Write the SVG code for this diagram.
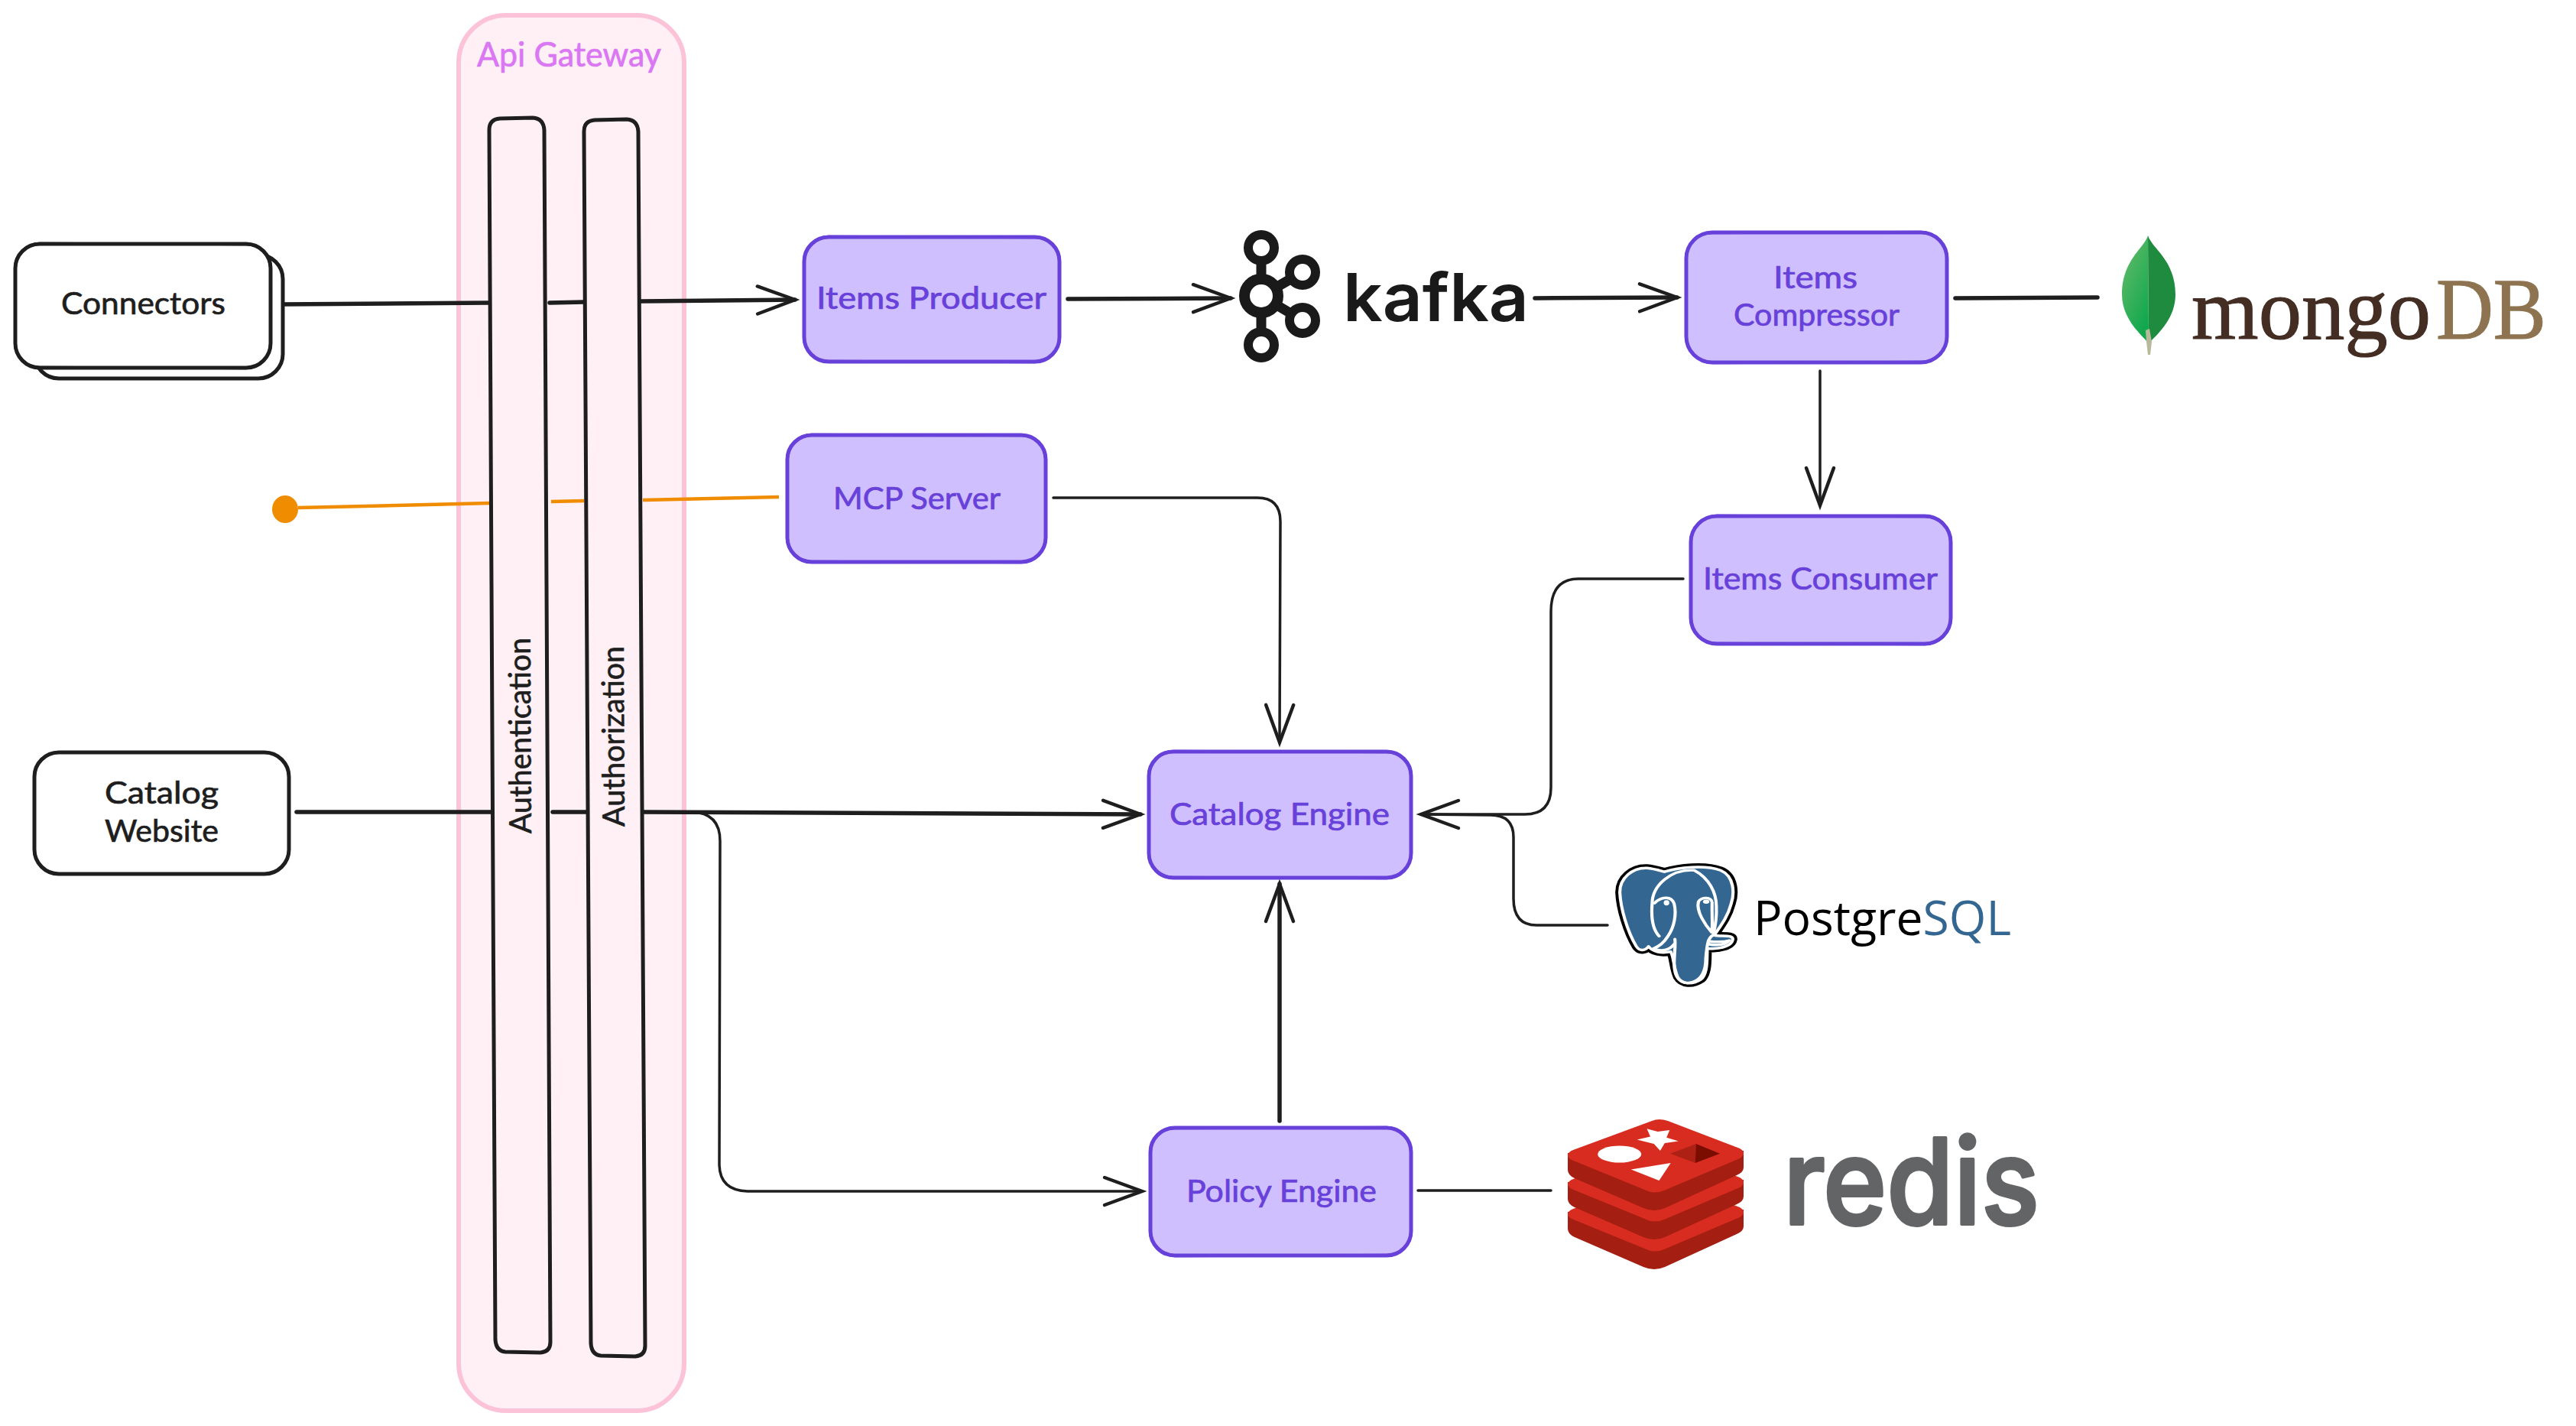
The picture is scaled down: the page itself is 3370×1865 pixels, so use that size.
<svg xmlns="http://www.w3.org/2000/svg" width="3370" height="1865" viewBox="0 0 3370 1865">
<style>
text{font-family:"Lato","Noto Sans",sans-serif;font-size:40px}
.ink{fill:#1e1e1e;stroke:#1e1e1e;stroke-width:.7}.vio{fill:#6741d9;stroke:#6741d9;stroke-width:.7}.pk{fill:#da77f2;stroke:#da77f2;stroke-width:.7;font-size:44px}
.w{fill:#fff;stroke:#1e1e1e;stroke-width:5}
.wo{fill:none;stroke:#1e1e1e;stroke-width:3}
.p{fill:#d0bfff;stroke:#6741d9;stroke-width:5}
.po{fill:none;stroke:#6741d9;stroke-width:3}
.bar{fill:#fff0f6;stroke:#1e1e1e;stroke-width:5}
.l{fill:none;stroke:#1e1e1e;stroke-width:5.5;stroke-linecap:round}
.t{fill:none;stroke:#1e1e1e;stroke-width:3.5;stroke-linecap:round;stroke-linejoin:round}
.o{fill:none;stroke:#f08c00;stroke-width:4.5}
.kr{fill:#fff;stroke:#1a1a1a}
.wl{fill:none;stroke:#fff;stroke-width:9;stroke-linejoin:round;stroke-linecap:round}
</style>
<defs>
<marker id="a" markerUnits="userSpaceOnUse" markerWidth="60" markerHeight="50" refX="55" refY="25" orient="auto" overflow="visible"><path d="M6 7 L55 25 L6 43" fill="none" stroke="#1e1e1e" stroke-width="4.5" stroke-linecap="round"/></marker>
<linearGradient id="lf" x1="0" y1="0" x2="0.6" y2="1"><stop offset="0" stop-color="#6cbc6c"/><stop offset="1" stop-color="#12a84e"/></linearGradient>
<path id="el" d="M430 105 C470 90 545 80 590 100 C630 120 630 180 620 215 C610 260 590 290 572 322 C590 328 625 318 625 335 C622 360 590 368 552 368 C552 410 552 455 535 472 C510 492 480 490 468 465 C455 430 458 400 448 378 C420 385 395 378 385 360 C375 375 360 378 350 360 C325 310 305 230 303 175 C303 125 340 90 380 92 C400 94 415 100 430 105 Z"/>
<g id="rlayer">
<path fill="#a41e11" d="M2051 1508 V1530 Q2051 1537 2060 1541 L2150 1580 Q2164 1586 2178 1580 L2272 1537 Q2281 1533 2281 1527 V1505 Z"/>
<path fill="#d82c20" d="M2058 1504 L2161 1466 Q2170 1462 2182 1466 L2276 1502 Q2281 1505 2281 1508 Q2281 1512 2276 1515 L2177 1557 Q2164 1562 2154 1557 L2056 1517 Q2051 1514 2051 1511 Q2051 1507 2058 1504 Z"/>
</g>
</defs>
<rect width="3370" height="1865" fill="#fff"/>

<g id="api-gateway">
<rect x="600" y="20" width="295" height="1825" rx="62" fill="#fff0f6" stroke="#fcc2d7" stroke-width="6"/>
<text class="pk" x="624" y="87" textLength="241" lengthAdjust="spacingAndGlyphs">Api Gateway</text>
</g>

<g id="connectors-lines">
<path class="l" d="M368 398 L640 396"/>
<path class="l" d="M719 396 L765 395"/>
<path class="l" d="M838 394 L1040 392" marker-end="url(#a)"/>
<path class="o" d="M390 664 L641 658"/>
<path class="o" d="M721 656 L764 655"/>
<path class="o" d="M841 654 L1019 650"/>
<path class="l" d="M388 1062 L648 1062"/>
<path class="l" d="M723 1062 L770 1062"/>
<path class="l" d="M842 1062 L1492 1065" marker-end="url(#a)"/>
<path class="t" d="M842 1062 H905 Q942 1063 942 1100 L941 1522 Q941 1557 978 1558 L1494 1558" marker-end="url(#a)"/>
<path class="l" d="M1397 391 L1610 390" marker-end="url(#a)"/>
<path class="l" d="M2008 390 L2194 389" marker-end="url(#a)"/>
<path class="l" d="M2558 390 L2744 389"/>
<path class="t" d="M2381 485 L2381 661" marker-end="url(#a)"/>
<path class="t" d="M1378 651 H1645 Q1675 651 1675 682 L1674 971" marker-end="url(#a)"/>
<path class="t" d="M2202 757 H2065 Q2029 757 2029 800 V1030 Q2029 1065 1995 1065 L1859 1065" marker-end="url(#a)"/>
<path class="t" d="M2103 1210 H2010 Q1980 1210 1980 1175 V1095 Q1980 1066 1950 1066 L1859 1065"/>
<path class="l" d="M1674 1466 L1674 1156" marker-end="url(#a)"/>
<path class="t" d="M1855 1557 L2029 1557"/>
</g>

<g id="authentication">
<path class="bar" d="M654 155 L697 154 Q711 155 712 170 L720 1755 Q720 1768 707 1769 L661 1768 Q649 1767 648 1752 L640 170 Q640 156 654 155 Z"/>
<text class="ink" transform="translate(695 1090) rotate(-90.3)" textLength="256" lengthAdjust="spacingAndGlyphs">Authentication</text>
</g>
<g id="authorization">
<path class="bar" d="M778 157 L820 156 Q834 157 835 172 L844 1760 Q844 1773 831 1774 L786 1773 Q774 1772 773 1757 L764 172 Q764 158 778 157 Z"/>
<text class="ink" transform="translate(817 1081) rotate(-90.3)" textLength="236" lengthAdjust="spacingAndGlyphs">Authorization</text>
</g>

<g id="connectors">
<rect class="w" x="45" y="333" width="325" height="162" rx="32"/>
<rect class="w" x="20" y="319" width="334" height="162" rx="32"/>
<rect class="wo" x="20" y="319" width="334" height="162" rx="32" transform="rotate(.3 186 398)"/>
<text class="ink" x="80" y="411" textLength="215" lengthAdjust="spacingAndGlyphs">Connectors</text>
</g>
<g id="mcp-client"><ellipse cx="373" cy="666" rx="17" ry="18" fill="#f08c00"/></g>
<g id="catalog-website">
<rect class="w" x="45" y="984" width="333" height="159" rx="32"/>
<text class="ink" x="137" y="1051" textLength="149" lengthAdjust="spacingAndGlyphs">Catalog</text>
<text class="ink" x="137" y="1101" textLength="149" lengthAdjust="spacingAndGlyphs">Website</text>
</g>

<g id="items-producer">
<rect class="p" x="1052" y="310" width="334" height="163" rx="32"/>
<rect class="po" x="1052" y="310" width="334" height="163" rx="32" transform="rotate(.3 1219 391)"/>
<text class="vio" x="1068" y="404" textLength="301" lengthAdjust="spacingAndGlyphs">Items Producer</text>
</g>
<g id="mcp-server">
<rect class="p" x="1030" y="569" width="338" height="166" rx="32"/>
<rect class="po" x="1030" y="569" width="338" height="166" rx="32" transform="rotate(.3 1200 652)"/>
<text class="vio" x="1090" y="666" textLength="219" lengthAdjust="spacingAndGlyphs">MCP Server</text>
</g>
<g id="items-compressor">
<rect class="p" x="2206" y="304" width="341" height="170" rx="34"/>
<rect class="po" x="2206" y="304" width="341" height="170" rx="34" transform="rotate(-.3 2377 388)"/>
<text class="vio" x="2320" y="377" textLength="110" lengthAdjust="spacingAndGlyphs">Items</text>
<text class="vio" x="2268" y="426" textLength="217" lengthAdjust="spacingAndGlyphs">Compressor</text>
</g>
<g id="items-consumer">
<rect class="p" x="2212" y="675" width="340" height="167" rx="34"/>
<rect class="po" x="2212" y="675" width="340" height="167" rx="34" transform="rotate(.3 2382 758)"/>
<text class="vio" x="2228" y="771" textLength="307" lengthAdjust="spacingAndGlyphs">Items Consumer</text>
</g>
<g id="catalog-engine">
<rect class="p" x="1503" y="983" width="343" height="165" rx="32"/>
<rect class="po" x="1503" y="983" width="343" height="165" rx="32" transform="rotate(.3 1674 1065)"/>
<text class="vio" x="1530" y="1079" textLength="288" lengthAdjust="spacingAndGlyphs">Catalog Engine</text>
</g>
<g id="policy-engine">
<rect class="p" x="1505" y="1475" width="341" height="167" rx="32"/>
<rect class="po" x="1505" y="1475" width="341" height="167" rx="32" transform="rotate(-.3 1675 1558)"/>
<text class="vio" x="1552" y="1572" textLength="249" lengthAdjust="spacingAndGlyphs">Policy Engine</text>
</g>

<g id="kafka">
<path d="M1650 345 V430 M1650 387 L1704 356 M1650 387 L1704 419" fill="none" stroke="#1a1a1a" stroke-width="13"/>
<circle class="kr" cx="1650" cy="324" r="17" stroke-width="12"/>
<circle class="kr" cx="1650" cy="451" r="17" stroke-width="12"/>
<circle class="kr" cx="1704" cy="356" r="17" stroke-width="12"/>
<circle class="kr" cx="1704" cy="419" r="17" stroke-width="12"/>
<circle class="kr" cx="1650" cy="387" r="22" stroke-width="14"/>
<text x="1757" y="420" style="font-family:Inter,sans-serif;font-size:87px;font-weight:600" fill="#1a1a1a" textLength="243" lengthAdjust="spacingAndGlyphs">kafka</text>
</g>

<g id="mongodb">
<path fill="url(#lf)" d="M2810 308 C2805 325 2776 340 2776 385 C2776 415 2798 435 2809 447 L2811 447 Z"/>
<path fill="#1f8b3f" d="M2810 308 C2815 325 2846 340 2846 385 C2846 415 2825 435 2813 447 L2811 447 Z"/>
<path fill="#b8b99a" d="M2807 432 L2812 430 L2815 447 L2813 464 L2810 464 L2808 447 Z"/>
<text x="2867" y="443" style="font-family:'Liberation Serif',serif;font-size:114px" fill="#442d22" stroke="#442d22" stroke-width="1.2" textLength="313" lengthAdjust="spacingAndGlyphs">mongo</text>
<text x="3187" y="443" style="font-family:'Liberation Serif',serif;font-size:114px" fill="#8e7350" stroke="#8e7350" stroke-width="1.2" textLength="144" lengthAdjust="spacingAndGlyphs">DB</text>
</g>

<g id="postgresql">
<g transform="translate(1980 1100) scale(.4591 .3827)">
<use href="#el" fill="#000" stroke="#000" stroke-width="26" stroke-linejoin="round"/>
<use href="#el" fill="#336791" stroke="#fff" stroke-width="9" stroke-linejoin="round"/>
<path class="wl" d="M515 100 C450 95 395 150 395 215 C392 260 395 300 415 325 M515 100 C555 125 580 175 578 230 C580 270 572 300 570 320 C555 330 552 345 548 400 C548 445 535 482 495 485 C470 482 458 460 458 420 C458 385 462 360 460 335"/>
<path class="wl" d="M402 212 C420 190 450 185 458 215 C465 250 458 295 440 325 C430 345 415 360 398 368 C420 378 445 375 458 352"/>
<path class="wl" d="M527 207 C535 190 565 190 566 210 C565 250 568 285 565 312 C545 285 520 240 527 207 Z"/>
<path class="wl" d="M555 342 C575 345 600 345 615 340 C605 355 580 358 555 352"/>
<ellipse cx="436" cy="211" rx="8" ry="9" fill="#fff"/><ellipse cx="549" cy="207" rx="9" ry="7" fill="#fff"/>
</g>
<text x="2294" y="1223" style="font-family:'Open Sans',sans-serif;font-size:63px" textLength="337" lengthAdjust="spacingAndGlyphs"><tspan fill="#000">Postgre</tspan><tspan fill="#336791">SQL</tspan></text>
</g>

<g id="redis">
<use href="#rlayer" y="77"/>
<use href="#rlayer" y="38"/>
<use href="#rlayer"/>
<polygon fill="#fff" points="2154.5,1476.2 2168.7,1480 2184.3,1478.1 2180.2,1487.7 2195.8,1492.6 2177.9,1494.9 2171.9,1504.9 2163.7,1496.1 2141.6,1490.4 2159,1486.5"/>
<ellipse cx="2118.7" cy="1509.5" rx="28.5" ry="11" fill="#fff"/>
<polygon fill="#fff" points="2133.8,1529.4 2185.7,1521 2170.5,1544"/>
<polygon fill="#ad2115" points="2185.2,1508.7 2218.8,1496 2217.8,1521"/>
<polygon fill="#7a0c00" points="2218.8,1496 2250,1508.7 2217.8,1521"/>
<text x="2333" y="1601" style="font-family:Inter,sans-serif;font-size:156px;font-weight:500" fill="#636466" stroke="#636466" stroke-width="4" stroke-linejoin="round" textLength="335" lengthAdjust="spacingAndGlyphs">redis</text>
</g>
</svg>
